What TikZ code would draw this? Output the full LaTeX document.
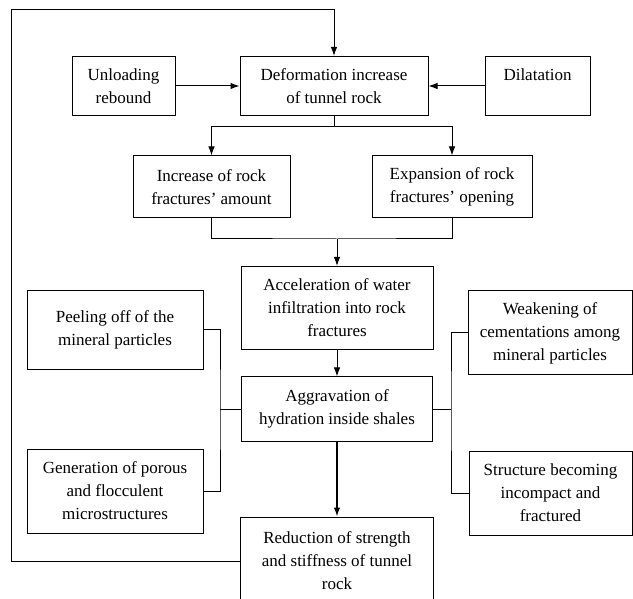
\documentclass[tikz,border=0pt]{standalone}
\usepackage{fontspec}
\setmainfont{Liberation Serif}
\usetikzlibrary{arrows.meta}
\begin{document}
\begin{tikzpicture}[x=1pt,y=-1pt]
	\tikzstyle{boite}=[draw,line width=1pt,align=center,inner sep=0pt,font=\fontsize{17}{23}\selectfont]
	\tikzstyle{fleche}=[line width=1pt,-{Latex[length=9pt,width=6.5pt]}]
	\tikzstyle{trait}=[line width=1pt]
	\useasboundingbox (0,0) rectangle (633,599);
	\node[boite,minimum width=103pt,minimum height=59pt] (A) at (123.5,86){Unloading\\rebound};
	\node[boite,minimum width=188pt,minimum height=59pt] (B) at (334,86){Deformation increase\\of tunnel rock};
	\node[boite,minimum width=105pt,minimum height=59pt] (C) at (537.5,86){Dilatation\\\phantom{rebound}};
	\node[boite,minimum width=157pt,minimum height=62pt] (D) at (211.5,187){Increase of rock\\fractures’ amount};
	\node[boite,minimum width=160pt,minimum height=62pt] (E) at (452,187){Expansion of rock\\fractures’ opening};
	\node[boite,minimum width=192pt,minimum height=83pt] (F) at (337,308){Acceleration of water\\infiltration into rock\\fractures};
	\node[boite,minimum width=176pt,minimum height=79pt] (G) at (115,330){Peeling off of the\\mineral particles};
	\node[boite,minimum width=164pt,minimum height=84pt] (H) at (550,333){Weakening of\\cementations among\\mineral particles};
	\node[boite,minimum width=191pt,minimum height=64pt] (I) at (337,409){Aggravation of\\hydration inside shales};
	\node[boite,minimum width=176pt,minimum height=84pt] (J) at (115,491){Generation of porous\\and flocculent\\microstructures};
	\node[boite,minimum width=163pt,minimum height=84pt] (K) at (550.5,493){Structure becoming\\incompact and\\fractured};
	\node[boite,minimum width=193pt,minimum height=88pt] (L) at (337,561){Reduction of strength\\and stiffness of tunnel\\rock};
	% retour vers le haut
	\coordinate (coin) at (11,10);
	\draw[fleche] (L.west) -| (coin) -| (B.north);
	\draw[fleche] (A.east) -- (B.west);
	\draw[fleche] (C.west) -- (B.east);
	% branches
	\coordinate (split) at (334,127);
	\draw[trait] (B.south) -- (split);
	\draw[fleche] (split) -| (D.north);
	\draw[fleche] (split) -| (E.north);
	\coordinate (fusion) at (337,239);
	\draw[trait] (D.south) |- (fusion) -| (E.south);
	\draw[fleche] (fusion) -- (F.north);
	\draw[fleche] (F.south) -- (I.north);
	% crochets
	\coordinate (crochetG) at (220,409);
	\draw[trait] (G.east) -| (crochetG) |- (J.east);
	\draw[trait] (crochetG) -- (I.west);
	\coordinate (crochetD) at (451,409);
	\draw[trait] (H.west) -| (crochetD) |- (K.west);
	\draw[trait] (crochetD) -- (I.east);
	\draw[fleche,line width=1.4pt] (I.south) -- (L.north);
\end{tikzpicture}
\end{document}
